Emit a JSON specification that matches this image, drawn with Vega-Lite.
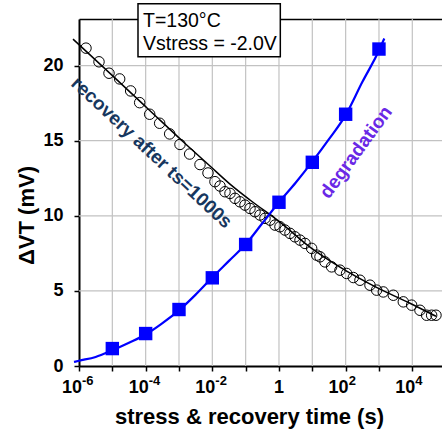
{
  "$schema": "https://vega.github.io/schema/vega-lite/v6.json",
  "autosize": "none",
  "width": 363,
  "height": 347,
  "padding": {"left": 79, "top": 19, "right": 0, "bottom": 64},
  "config": {"view": {"stroke": null}, "font": "Liberation Sans"},
  "resolve": {"axis": {"x": "independent", "y": "independent"}},
  "datasets": {
    "gridX": [
      {"t": 1e-5}, {"t": 1e-4}, {"t": 1e-3}, {"t": 1e-2}, {"t": 0.1}, {"t": 1},
      {"t": 10}, {"t": 100}, {"t": 1000}, {"t": 10000}
    ],
    "gridY": [{"dvt": 5}, {"dvt": 10}, {"dvt": 15}, {"dvt": 20}],
    "recovery": [
      {"t": 1.62e-6, "dvt": 21.16}, {"t": 3.98e-6, "dvt": 20.25}, {"t": 7.94e-6, "dvt": 19.49},
      {"t": 1.66e-5, "dvt": 19.11}, {"t": 3.55e-5, "dvt": 18.31}, {"t": 6.61e-5, "dvt": 17.53},
      {"t": 1.32e-4, "dvt": 16.76}, {"t": 2.63e-4, "dvt": 16.16}, {"t": 5.25e-4, "dvt": 15.45},
      {"t": 1.07e-3, "dvt": 14.75}, {"t": 2.09e-3, "dvt": 14.11}, {"t": 4.27e-3, "dvt": 13.41},
      {"t": 7.41e-3, "dvt": 12.85}, {"t": 1.20e-2, "dvt": 12.27}, {"t": 1.70e-2, "dvt": 11.98},
      {"t": 2.40e-2, "dvt": 11.60}, {"t": 3.39e-2, "dvt": 11.49}, {"t": 4.79e-2, "dvt": 11.16},
      {"t": 6.76e-2, "dvt": 10.93}, {"t": 9.55e-2, "dvt": 10.71}, {"t": 0.135, "dvt": 10.49},
      {"t": 0.191, "dvt": 10.27}, {"t": 0.269, "dvt": 10.05}, {"t": 0.380, "dvt": 9.83},
      {"t": 0.537, "dvt": 9.71}, {"t": 0.759, "dvt": 9.38}, {"t": 1.07, "dvt": 9.27},
      {"t": 1.51, "dvt": 9.05}, {"t": 2.14, "dvt": 8.83}, {"t": 3.02, "dvt": 8.60},
      {"t": 4.27, "dvt": 8.38}, {"t": 6.03, "dvt": 8.16}, {"t": 9.55, "dvt": 7.83},
      {"t": 13.5, "dvt": 7.38}, {"t": 17.0, "dvt": 7.27}, {"t": 24.0, "dvt": 6.93},
      {"t": 38.0, "dvt": 6.60}, {"t": 67.6, "dvt": 6.38}, {"t": 107, "dvt": 6.16},
      {"t": 170, "dvt": 5.89}, {"t": 269, "dvt": 5.71}, {"t": 537, "dvt": 5.38},
      {"t": 851, "dvt": 5.05}, {"t": 1349, "dvt": 4.93}, {"t": 2692, "dvt": 4.71},
      {"t": 5370, "dvt": 4.27}, {"t": 9550, "dvt": 4.05}, {"t": 16980, "dvt": 3.71},
      {"t": 26920, "dvt": 3.38}, {"t": 38020, "dvt": 3.38}, {"t": 51290, "dvt": 3.38}
    ],
    "recoveryFit": [
      {"t": 6.61e-7, "dvt": 21.76}, {"t": 8.51e-6, "dvt": 19.48}, {"t": 1.10e-4, "dvt": 17.18},
      {"t": 1.41e-3, "dvt": 14.88}, {"t": 8.51e-3, "dvt": 13.31}, {"t": 3.39e-2, "dvt": 12.11},
      {"t": 0.135, "dvt": 11.05}, {"t": 1.07, "dvt": 9.58}, {"t": 8.51, "dvt": 7.91},
      {"t": 67.6, "dvt": 6.58}, {"t": 813, "dvt": 5.25}, {"t": 8511, "dvt": 4.18},
      {"t": 51290, "dvt": 3.31}
    ],
    "degradation": [
      {"t": 1e-5, "dvt": 1.16}, {"t": 1e-4, "dvt": 2.16}, {"t": 1e-3, "dvt": 3.76},
      {"t": 1e-2, "dvt": 5.87}, {"t": 0.1, "dvt": 8.09}, {"t": 1, "dvt": 10.9},
      {"t": 10, "dvt": 13.56}, {"t": 100, "dvt": 16.76}, {"t": 1000, "dvt": 21.1}
    ],
    "degradationFit": [
      {"t": 7.08e-7, "dvt": 0.27}, {"t": 1e-6, "dvt": 0.35}, {"t": 3.16e-6, "dvt": 0.6},
      {"t": 1e-5, "dvt": 1.05}, {"t": 3.16e-5, "dvt": 1.55}, {"t": 1e-4, "dvt": 2.1},
      {"t": 3.16e-4, "dvt": 2.85}, {"t": 1e-3, "dvt": 3.7}, {"t": 3.16e-3, "dvt": 4.75},
      {"t": 1e-2, "dvt": 5.9}, {"t": 3.16e-2, "dvt": 7.0}, {"t": 0.1, "dvt": 8.1},
      {"t": 0.316, "dvt": 9.5}, {"t": 1, "dvt": 10.9}, {"t": 3.16, "dvt": 12.2},
      {"t": 10, "dvt": 13.6}, {"t": 31.6, "dvt": 15.1}, {"t": 100, "dvt": 16.7},
      {"t": 316, "dvt": 18.9}, {"t": 1000, "dvt": 21.0}, {"t": 1445, "dvt": 21.8}
    ],
    "tickPow": [
      {"t": 1e-6, "exp": "-6"}, {"t": 1e-4, "exp": "-4"}, {"t": 1e-2, "exp": "-2"},
      {"t": 100, "exp": "2"}, {"t": 10000, "exp": "4"}
    ],
    "tickOne": [{"t": 1, "label": "1"}],
    "box": [{"t1": 5.89e-5, "t2": 1.096, "v1": 20.58, "v2": 24.11}],
    "boxText": [
      {"t": 8.32e-5, "dvt": 22.6, "label": "T=130°C"},
      {"t": 8.32e-5, "dvt": 21.05, "label": "Vstress = -2.0V"}
    ],
    "recLabel": [{"t": 1.51e-4, "dvt": 14.2, "label": "recovery after ts=1000s"}],
    "degLabel": [{"t": 204, "dvt": 14.23, "label": "degradation"}]
  },
  "layer": [
    {
      "data": {"name": "gridX"},
      "mark": {"type": "rule", "stroke": "#C2C2C2", "strokeWidth": 1.2, "opacity": 1},
      "encoding": {
        "x": {"field": "t", "type": "quantitative", "scale": {"type": "log", "domain": [0.000001, 77800], "nice": false}, "axis": null},
        "y": {"datum": 0, "type": "quantitative", "scale": {"domain": [0, 23.1], "nice": false, "zero": false}, "axis": null},
        "y2": {"datum": 23.1}
      }
    },
    {
      "data": {"name": "gridY"},
      "mark": {"type": "rule", "stroke": "#C2C2C2", "strokeWidth": 1.2, "opacity": 1},
      "encoding": {
        "y": {"field": "dvt", "type": "quantitative", "scale": {"domain": [0, 23.1], "nice": false, "zero": false}, "axis": null},
        "x": {"datum": 0.000001, "type": "quantitative", "scale": {"type": "log", "domain": [0.000001, 77800], "nice": false}, "axis": null},
        "x2": {"datum": 77800}
      }
    },
    {
      "data": {"name": "recovery"},
      "mark": {"type": "point", "shape": "circle", "filled": false, "size": 110, "stroke": "#000000", "strokeWidth": 1, "opacity": 1},
      "encoding": {
        "x": {"field": "t", "type": "quantitative",
          "scale": {"type": "log", "domain": [0.000001, 77800], "nice": false},
          "axis": {"orient": "bottom", "values": [0.000001, 0.00001, 0.0001, 0.001, 0.01, 0.1, 1, 10, 100, 1000, 10000],
            "labels": false, "grid": false,
            "domainColor": "#000000", "domainWidth": 2, "tickColor": "#000000", "tickWidth": 1.5, "tickSize": 5,
            "title": "stress & recovery time (s)", "titleFontSize": 22, "titleFontWeight": "bold", "titleColor": "#000000",
            "titleX": 170, "titleY": 57, "titleBaseline": "alphabetic", "titleAlign": "center"}},
        "y": {"field": "dvt", "type": "quantitative",
          "scale": {"domain": [0, 23.1], "nice": false, "zero": false},
          "axis": {"orient": "left", "values": [0, 5, 10, 15, 20], "grid": false,
            "domainColor": "#000000", "domainWidth": 2, "tickColor": "#000000", "tickWidth": 1.5, "tickSize": 5,
            "labelFontSize": 18, "labelFontWeight": "bold", "labelColor": "#000000", "labelPadding": 11,
            "title": "ΔVT (mV)", "titleFontSize": 22, "titleFontWeight": "bold", "titleColor": "#000000",
            "titleX": -46, "titleY": 196, "titleAngle": -90, "titleBaseline": "alphabetic", "titleAlign": "center"}}
      }
    },
    {
      "data": {"name": "recoveryFit"},
      "mark": {"type": "line", "color": "#000000", "strokeWidth": 1.5, "interpolate": "monotone"},
      "encoding": {
        "x": {"field": "t", "type": "quantitative", "scale": {"type": "log", "domain": [0.000001, 77800], "nice": false}, "axis": null},
        "y": {"field": "dvt", "type": "quantitative", "scale": {"domain": [0, 23.1], "nice": false, "zero": false}, "axis": null}
      }
    },
    {
      "data": {"name": "degradationFit"},
      "mark": {"type": "line", "color": "#0000FF", "strokeWidth": 2.2, "interpolate": "monotone"},
      "encoding": {
        "x": {"field": "t", "type": "quantitative", "scale": {"type": "log", "domain": [0.000001, 77800], "nice": false}, "axis": null},
        "y": {"field": "dvt", "type": "quantitative", "scale": {"domain": [0, 23.1], "nice": false, "zero": false}, "axis": null}
      }
    },
    {
      "data": {"name": "degradation"},
      "mark": {"type": "square", "filled": true, "size": 180, "color": "#0000FF", "opacity": 1},
      "encoding": {
        "x": {"field": "t", "type": "quantitative", "scale": {"type": "log", "domain": [0.000001, 77800], "nice": false}, "axis": null},
        "y": {"field": "dvt", "type": "quantitative", "scale": {"domain": [0, 23.1], "nice": false, "zero": false}, "axis": null}
      }
    },
    {
      "data": {"name": "tickPow"},
      "mark": {"type": "text", "align": "right", "baseline": "alphabetic", "dx": 3, "dy": 27, "fontSize": 18, "fontWeight": "bold", "color": "#000000"},
      "encoding": {
        "x": {"field": "t", "type": "quantitative", "scale": {"type": "log", "domain": [0.000001, 77800], "nice": false}, "axis": null},
        "y": {"datum": 0, "type": "quantitative", "scale": {"domain": [0, 23.1], "nice": false, "zero": false}, "axis": null},
        "text": {"value": "10"}
      }
    },
    {
      "data": {"name": "tickPow"},
      "mark": {"type": "text", "align": "left", "baseline": "alphabetic", "dx": 3, "dy": 19, "fontSize": 13, "fontWeight": "bold", "color": "#000000"},
      "encoding": {
        "x": {"field": "t", "type": "quantitative", "scale": {"type": "log", "domain": [0.000001, 77800], "nice": false}, "axis": null},
        "y": {"datum": 0, "type": "quantitative", "scale": {"domain": [0, 23.1], "nice": false, "zero": false}, "axis": null},
        "text": {"field": "exp"}
      }
    },
    {
      "data": {"name": "tickOne"},
      "mark": {"type": "text", "align": "center", "baseline": "alphabetic", "dy": 27, "fontSize": 18, "fontWeight": "bold", "color": "#000000"},
      "encoding": {
        "x": {"field": "t", "type": "quantitative", "scale": {"type": "log", "domain": [0.000001, 77800], "nice": false}, "axis": null},
        "y": {"datum": 0, "type": "quantitative", "scale": {"domain": [0, 23.1], "nice": false, "zero": false}, "axis": null},
        "text": {"field": "label"}
      }
    },
    {
      "data": {"name": "box"},
      "mark": {"type": "rect", "fill": "#FFFFFF", "stroke": "#000000", "strokeWidth": 1.5},
      "encoding": {
        "x": {"field": "t1", "type": "quantitative", "scale": {"type": "log", "domain": [0.000001, 77800], "nice": false},
          "axis": {"orient": "top", "labels": false, "ticks": false, "grid": false, "domainColor": "#000000", "domainWidth": 1.5, "title": null}},
        "x2": {"field": "t2"},
        "y": {"field": "v1", "type": "quantitative", "scale": {"domain": [0, 23.1], "nice": false, "zero": false}, "axis": null},
        "y2": {"field": "v2"}
      }
    },
    {
      "data": {"name": "boxText"},
      "mark": {"type": "text", "align": "left", "baseline": "alphabetic", "fontSize": 19.5, "color": "#000000"},
      "encoding": {
        "x": {"field": "t", "type": "quantitative", "scale": {"type": "log", "domain": [0.000001, 77800], "nice": false}, "axis": null},
        "y": {"field": "dvt", "type": "quantitative", "scale": {"domain": [0, 23.1], "nice": false, "zero": false}, "axis": null},
        "text": {"field": "label"}
      }
    },
    {
      "data": {"name": "recLabel"},
      "mark": {"type": "text", "align": "center", "baseline": "middle", "fontSize": 19, "fontWeight": "bold", "angle": 43, "color": "#17375E"},
      "encoding": {
        "x": {"field": "t", "type": "quantitative", "scale": {"type": "log", "domain": [0.000001, 77800], "nice": false}, "axis": null},
        "y": {"field": "dvt", "type": "quantitative", "scale": {"domain": [0, 23.1], "nice": false, "zero": false}, "axis": null},
        "text": {"field": "label"}
      }
    },
    {
      "data": {"name": "degLabel"},
      "mark": {"type": "text", "align": "center", "baseline": "middle", "fontSize": 19, "fontWeight": "bold", "angle": -54, "color": "#6A28E6"},
      "encoding": {
        "x": {"field": "t", "type": "quantitative", "scale": {"type": "log", "domain": [0.000001, 77800], "nice": false}, "axis": null},
        "y": {"field": "dvt", "type": "quantitative", "scale": {"domain": [0, 23.1], "nice": false, "zero": false}, "axis": null},
        "text": {"field": "label"}
      }
    }
  ]
}
